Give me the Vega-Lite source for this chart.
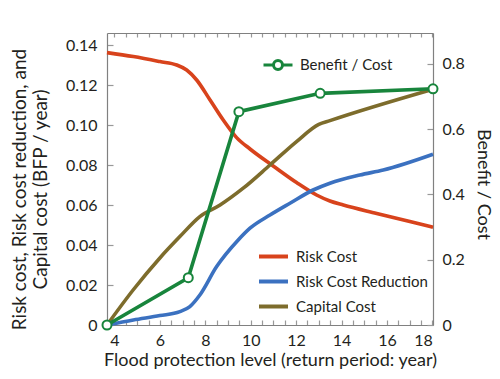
{
  "$schema": "https://vega.github.io/schema/vega-lite/v6.json",
  "autosize": {"type": "none"},
  "width": 326,
  "height": 292,
  "padding": {"left": 107, "top": 33, "right": 67, "bottom": 54},
  "background": "white",
  "datasets": {
    "costs": [
      {"x": 3.67, "v": 0.1362, "s": "Risk Cost"},
      {"x": 4.83, "v": 0.1342, "s": "Risk Cost"},
      {"x": 6.0, "v": 0.1317, "s": "Risk Cost"},
      {"x": 6.74, "v": 0.1300, "s": "Risk Cost"},
      {"x": 7.18, "v": 0.1275, "s": "Risk Cost"},
      {"x": 7.62, "v": 0.1225, "s": "Risk Cost"},
      {"x": 8.21, "v": 0.1125, "s": "Risk Cost"},
      {"x": 8.79, "v": 0.1025, "s": "Risk Cost"},
      {"x": 9.38, "v": 0.0937, "s": "Risk Cost"},
      {"x": 9.97, "v": 0.0880, "s": "Risk Cost"},
      {"x": 10.99, "v": 0.0795, "s": "Risk Cost"},
      {"x": 12.02, "v": 0.0712, "s": "Risk Cost"},
      {"x": 12.9, "v": 0.0650, "s": "Risk Cost"},
      {"x": 13.49, "v": 0.0620, "s": "Risk Cost"},
      {"x": 14.08, "v": 0.0600, "s": "Risk Cost"},
      {"x": 15.55, "v": 0.0558, "s": "Risk Cost"},
      {"x": 17.01, "v": 0.0517, "s": "Risk Cost"},
      {"x": 18.03, "v": 0.0489, "s": "Risk Cost"},
      {"x": 3.67, "v": 0.0, "s": "Risk Cost Reduction"},
      {"x": 4.83, "v": 0.0025, "s": "Risk Cost Reduction"},
      {"x": 6.0, "v": 0.0047, "s": "Risk Cost Reduction"},
      {"x": 6.88, "v": 0.0067, "s": "Risk Cost Reduction"},
      {"x": 7.32, "v": 0.0092, "s": "Risk Cost Reduction"},
      {"x": 7.76, "v": 0.0150, "s": "Risk Cost Reduction"},
      {"x": 8.5, "v": 0.0292, "s": "Risk Cost Reduction"},
      {"x": 9.45, "v": 0.0425, "s": "Risk Cost Reduction"},
      {"x": 9.97, "v": 0.0484, "s": "Risk Cost Reduction"},
      {"x": 10.85, "v": 0.0550, "s": "Risk Cost Reduction"},
      {"x": 11.73, "v": 0.0609, "s": "Risk Cost Reduction"},
      {"x": 12.75, "v": 0.0675, "s": "Risk Cost Reduction"},
      {"x": 13.49, "v": 0.0709, "s": "Risk Cost Reduction"},
      {"x": 14.81, "v": 0.0750, "s": "Risk Cost Reduction"},
      {"x": 15.84, "v": 0.0775, "s": "Risk Cost Reduction"},
      {"x": 18.03, "v": 0.0854, "s": "Risk Cost Reduction"},
      {"x": 3.67, "v": 0.0, "s": "Capital Cost"},
      {"x": 4.82, "v": 0.0175, "s": "Capital Cost"},
      {"x": 5.99, "v": 0.0334, "s": "Capital Cost"},
      {"x": 6.88, "v": 0.0442, "s": "Capital Cost"},
      {"x": 7.76, "v": 0.0542, "s": "Capital Cost"},
      {"x": 8.65, "v": 0.0600, "s": "Capital Cost"},
      {"x": 9.67, "v": 0.0684, "s": "Capital Cost"},
      {"x": 10.85, "v": 0.0800, "s": "Capital Cost"},
      {"x": 12.02, "v": 0.0917, "s": "Capital Cost"},
      {"x": 13.0, "v": 0.1003, "s": "Capital Cost"},
      {"x": 13.49, "v": 0.1022, "s": "Capital Cost"},
      {"x": 18.03, "v": 0.1179, "s": "Capital Cost"}
    ],
    "bc": [
      {"x": 3.67, "r": 0.0, "n": "Benefit / Cost"},
      {"x": 7.25, "r": 0.145, "n": "Benefit / Cost"},
      {"x": 9.48, "r": 0.654, "n": "Benefit / Cost"},
      {"x": 13.06, "r": 0.710, "n": "Benefit / Cost"},
      {"x": 18.03, "r": 0.724, "n": "Benefit / Cost"}
    ]
  },
  "config": {
    "view": {"stroke": null},
    "font": "Lato",
    "axis": {
      "labelFont": "Lato",
      "titleFont": "Lato",
      "labelFontSize": 16,
      "titleFontSize": 18,
      "titleFontWeight": "normal",
      "labelColor": "#231f20",
      "titleColor": "#231f20",
      "domainColor": "#808080",
      "domainWidth": 1.2,
      "tickColor": "#999999",
      "tickWidth": 1.2,
      "grid": false
    },
    "legend": {
      "labelFont": "Lato",
      "labelFontSize": 15,
      "labelColor": "#231f20",
      "padding": 0
    }
  },
  "layer": [
    {
      "data": {"name": "costs"},
      "mark": {"type": "line", "strokeWidth": 3.6, "interpolate": "monotone"},
      "encoding": {
        "x": {
          "field": "x",
          "type": "quantitative",
          "scale": {"domain": [3.67, 18.03], "nice": false, "zero": false},
          "axis": {
            "orient": "bottom",
            "values": [4, 4.5, 5, 5.5, 6, 6.5, 7, 7.5, 8, 8.5, 9, 9.5, 10, 10.5, 11, 11.5, 12, 12.5, 13, 13.5, 14, 14.5, 15, 15.5, 16, 16.5, 17, 17.5, 18],
            "labelExpr": "datum.value % 2 === 0 ? format(datum.value, 'd') : ''",
            "tickSize": -5,
            "labelPadding": 12,
            "title": "Flood protection level (return period: year)",
            "titlePadding": 3
          }
        },
        "y": {
          "field": "v",
          "type": "quantitative",
          "scale": {"domain": [0, 0.146], "nice": false},
          "axis": {
            "orient": "left",
            "values": [0, 0.02, 0.04, 0.06, 0.08, 0.1, 0.12, 0.14],
            "labelExpr": "datum.value === 0 ? '0' : format(datum.value, '.2f')",
            "tickSize": -6,
            "labelPadding": 16,
            "title": ["Risk cost, Risk cost reduction, and", "Capital cost (BFP / year)"],
            "titleFontSize": 19,
            "titleLineHeight": 21,
            "titleAngle": -90,
            "titleAlign": "center",
            "titleBaseline": "bottom",
            "titleX": -78,
            "titleY": 156
          }
        },
        "color": {
          "field": "s",
          "type": "nominal",
          "scale": {
            "domain": ["Risk Cost", "Risk Cost Reduction", "Capital Cost"],
            "range": ["#d8431c", "#3b71c0", "#7d6c2c"]
          },
          "legend": {
            "orient": "none",
            "legendX": 150,
            "legendY": 207,
            "direction": "vertical",
            "title": null,
            "symbolType": "stroke",
            "symbolSize": 841,
            "symbolStrokeWidth": 4,
            "labelOffset": 6,
            "rowPadding": -4
          }
        }
      }
    },
    {
      "data": {"name": "bc"},
      "layer": [
        {
          "mark": {"type": "line", "strokeWidth": 3.6},
          "encoding": {
            "color": {
              "field": "n",
              "type": "nominal",
              "scale": {"domain": ["Benefit / Cost"], "range": ["#18853c"]},
              "legend": {
                "orient": "none",
                "legendX": 155,
                "legendY": 16,
                "title": null,
                "symbolType": "M-1,0H-0.31M0.31,0H1M0.31,0A0.31,0.31,0,1,1,-0.31,0A0.31,0.31,0,1,1,0.31,0",
                "symbolSize": 841,
                "symbolStrokeWidth": 3,
                "symbolFillColor": "transparent",
                "labelOffset": 6
              }
            }
          }
        },
        {
          "mark": {"type": "point", "shape": "circle", "filled": false, "fill": "white", "stroke": "#18853c", "strokeWidth": 2, "size": 81, "opacity": 1},
          "encoding": {}
        }
      ],
      "encoding": {
        "x": {
          "field": "x",
          "type": "quantitative",
          "axis": {
            "orient": "top",
            "values": [4, 4.5, 5, 5.5, 6, 6.5, 7, 7.5, 8, 8.5, 9, 9.5, 10, 10.5, 11, 11.5, 12, 12.5, 13, 13.5, 14, 14.5, 15, 15.5, 16, 16.5, 17, 17.5, 18],
            "labels": false,
            "tickSize": -4,
            "title": null
          }
        },
        "y": {
          "field": "r",
          "type": "quantitative",
          "scale": {"domain": [0, 0.895], "nice": false},
          "axis": {
            "orient": "right",
            "values": [0, 0.2, 0.4, 0.6, 0.8],
            "labelExpr": "datum.value === 0 ? '0' : format(datum.value, '.1f')",
            "tickSize": -6,
            "labelPadding": 15,
            "title": "Benefit / Cost",
            "titlePadding": 9,
            "titleY": 151
          }
        }
      }
    }
  ],
  "resolve": {
    "scale": {"y": "independent", "color": "independent"},
    "axis": {"x": "independent"}
  }
}
